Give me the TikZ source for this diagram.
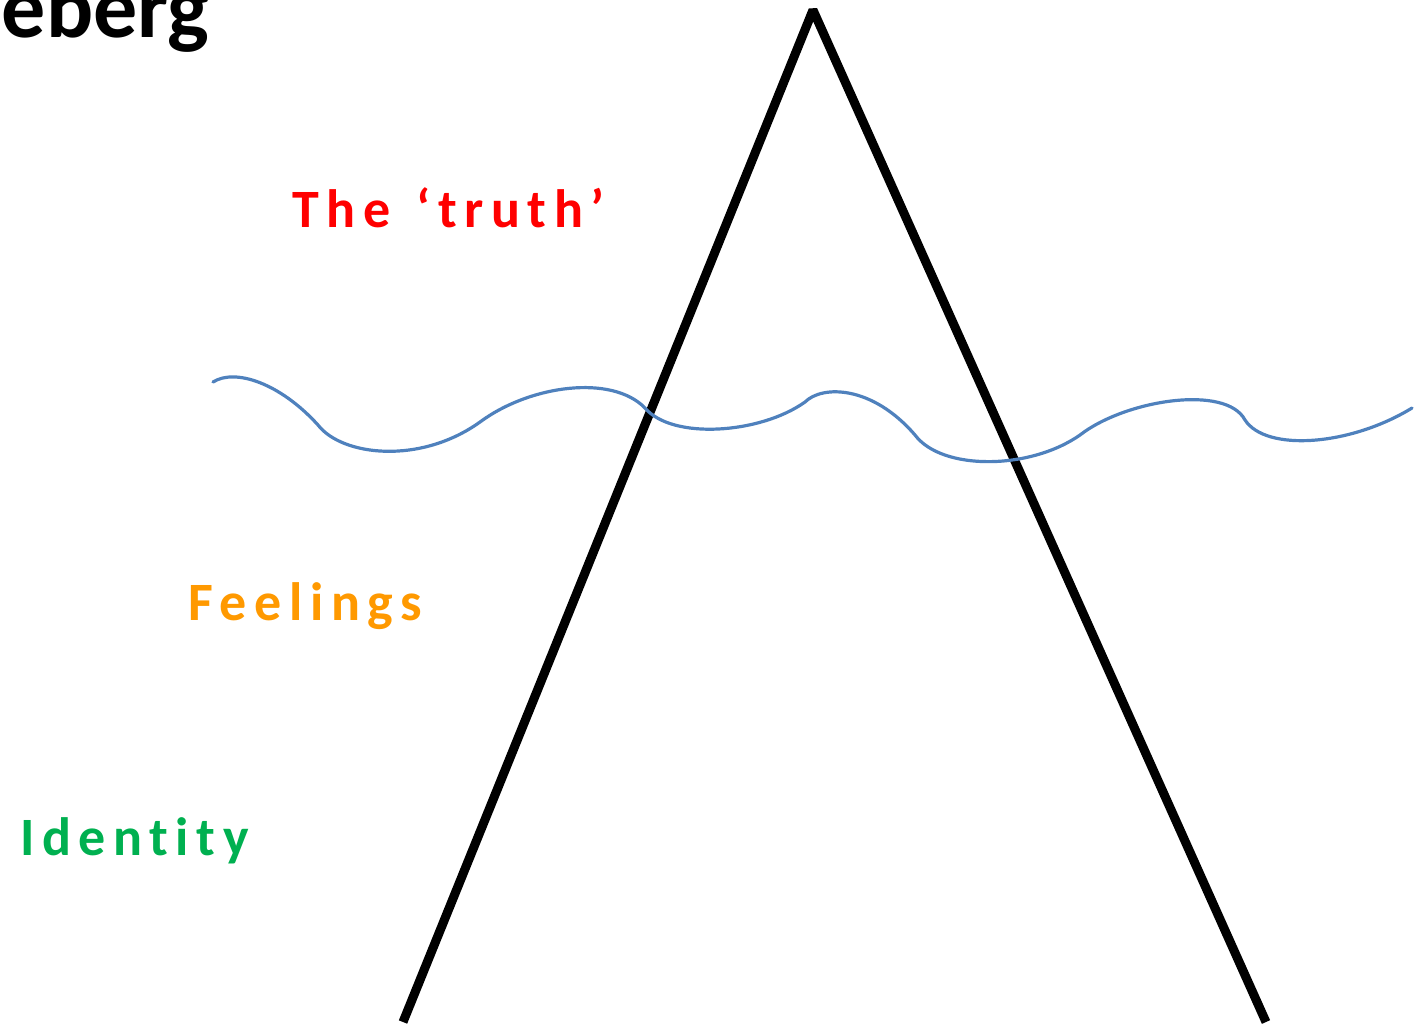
\documentclass[tikz,border=0pt]{standalone}
\usepackage{fontspec}
\setmainfont{Carlito}
\newfontfamily\spacedfont{Carlito}[LetterSpace=14, Ligatures={NoCommon}]
\usepackage{xcolor}
\definecolor{truthred}{HTML}{FF0000}
\definecolor{feelorange}{HTML}{FF9900}
\definecolor{identgreen}{HTML}{00B050}
\definecolor{waveblue}{HTML}{4F81BD}

\begin{document}
\begin{tikzpicture}[x=0.5pt, y=-0.5pt, line join=round]
    \tikzset{
        label/.style={anchor=base west, inner sep=0pt, font=\spacedfont\bfseries\fontsize{27pt}{32pt}\selectfont},
    }

    % page frame (pixels of the slide crop)
    \useasboundingbox (0,0) rectangle (1418,1025);
    \clip (0,0) rectangle (1418,1025);

    % Define main coordinates
    \coordinate (T) at (813,10);
    \coordinate (L) at (403,1022);
    \coordinate (R) at (1266,1022);

    % ==========================================
    % TITLE (cut off by the crop)
    % ==========================================
    \node[anchor=base east, inner sep=0pt, font=\bfseries\fontsize{44pt}{50pt}\selectfont] (title) at (210,37) {eberg};

    % ==========================================
    % THE ICEBERG
    % ==========================================
    \draw[line width=4.5pt, line join=bevel] (L) -- (T) -- (R);

    % Water line drawn on top of the berg
    \draw[waveblue, line width=1.6pt, line cap=round]
        (213,382) .. controls (235,368) and (280,383) .. (318,425)
                  .. controls (342,456) and (420,465) .. (480,422)
                  .. controls (530,385) and (612,374) .. (645,408)
                  .. controls (672,440) and (760,434) .. (805,402)
                  .. controls (822,385) and (872,385) .. (915,435)
                  .. controls (942,471) and (1030,470) .. (1080,435)
                  .. controls (1125,400) and (1226,384) .. (1245,420)
                  .. controls (1266,452) and (1350,446) .. (1412,408);

    % ==========================================
    % LABELS
    % ==========================================
    \node[label, text=truthred] (truth) at (292,227) {The\hspace{0.12em} ‘truth’};
    \node[label, text=feelorange] (feel) at (188,620) {Feelings};
    \node[label, text=identgreen] (ident) at (20,855) {Identity};

\end{tikzpicture}
\end{document}
